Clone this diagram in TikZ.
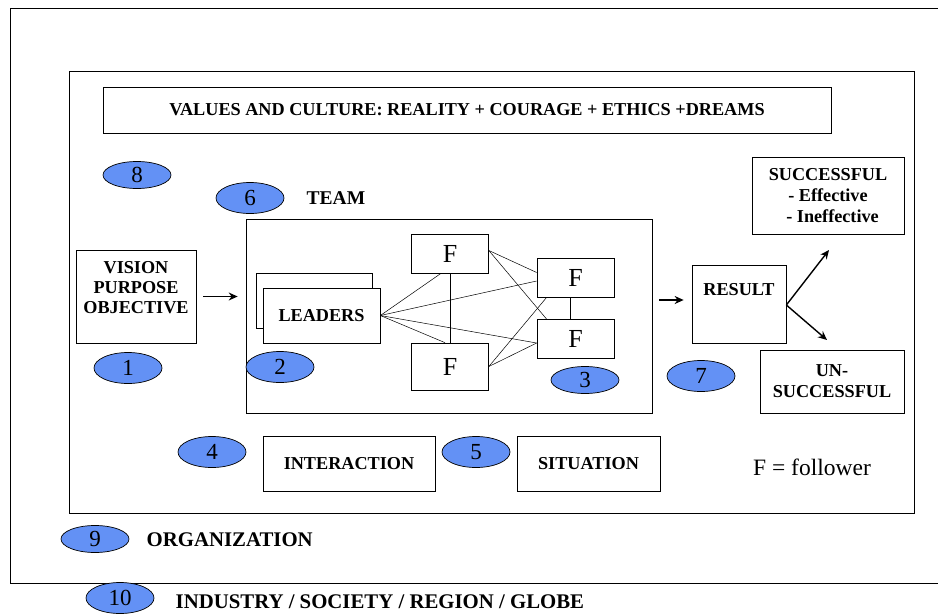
\documentclass[tikz,border=0pt]{standalone}
\usepackage{fontspec}
\setmainfont{Liberation Serif}
\usetikzlibrary{arrows.meta,shapes.geometric}
\definecolor{tagblue}{RGB}{99,145,245}

\begin{document}
\begin{tikzpicture}[x=1pt,y=-1pt,line width=0.7pt,
  box/.style={draw,inner sep=0pt,align=center,font=\bfseries\fontsize{18.2}{21}\selectfont},
  txt/.style={inner sep=0pt,align=center,font=\bfseries\fontsize{18.2}{20}\selectfont},
  fbox/.style={draw,minimum width=77,minimum height=39,inner sep=0pt,font=\fontsize{26}{26}\selectfont},
  tag/.style={ellipse,draw,fill=tagblue,minimum width=68,minimum height=27,inner sep=0pt,font=\fontsize{23}{23}\selectfont},
  lbl/.style={anchor=west,font=\bfseries\fontsize{20.8}{21}\selectfont},
  link/.style={line width=0.5pt},
  flow/.style={-{Stealth[length=9pt,width=8pt]},line width=1.4pt}]
  \useasboundingbox (0,0) rectangle (938,614);
  \draw (938,8) -- (10,8) -- (10,583) -- (938,583);
  \node[draw,minimum width=845,minimum height=442,inner sep=0pt] (org) at (491.5,292) {};
  \node[box,minimum width=728,minimum height=46] (values) at (467,110)
    {VALUES AND CULTURE: REALITY + COURAGE + ETHICS +DREAMS};

  \node[tag] (t8) at (137,175) {8};
  \node[tag,minimum height=31] (t6) at (250,198) {6};
  \node[lbl,font=\bfseries\fontsize{19.5}{20}\selectfont] (teamlbl) at (303,198) {TEAM};
  \node[draw,minimum width=406,minimum height=194,inner sep=0pt] (team) at (449,316) {};

  \node[draw,minimum width=120,minimum height=93,inner sep=0pt] (vision) at (136,296.5) {};
  \node[txt] (visiontxt) at ([yshift=9]vision.center) {VISION\\PURPOSE\\OBJECTIVE};
  \node[tag,minimum height=31] (t1) at (128,368) {1};

  \node[box,minimum width=116,minimum height=55] (leadback) at (314,300.5) {};
  \node[box,fill=white,minimum width=117,minimum height=55] (lead) at (321.5,315.5) {LEADERS};
  \node[tag,minimum height=31] (t2) at (280,367) {2};

  \node[fbox] (f1) at (450,253.5) {F};
  \node[fbox,minimum height=47] (f2) at (450,366.5) {F};
  \node[fbox] (f3) at (575.5,277.5) {F};
  \node[fbox] (f4) at (575.5,339) {F};
  \node[tag] (t3) at (585,380) {3};

  \draw[link] (lead.east) -- ([xshift=-9]f1.south);
  \draw[link] (lead.east) -- ([yshift=-3.5]f3.west);
  \draw[link] (lead.east) -- ([yshift=-4]f4.west);
  \draw[link] (lead.east) -- ([xshift=-5]f2.north);
  \draw[link] (f1.south) -- (f2.north);
  \draw[link] ([yshift=3]f1.east) -- ([yshift=5]f3.west);
  \draw[link] ([yshift=3]f1.east) -- ([xshift=10]f4.north west);
  \draw[link] (f2.east) -- ([xshift=10]f3.south west);
  \draw[link] (f2.east) -- ([yshift=-4]f4.west);
  \draw[link] ([xshift=-5]f3.south) -- ([xshift=-5]f4.north);

  \node[draw,minimum width=94,minimum height=78,inner sep=0pt] (result) at (739,304) {};
  \node[txt] (resulttxt) at ([yshift=14]result.center) {RESULT};
  \node[tag,minimum height=31] (t7) at (701,376) {7};
  \node[box,minimum width=152,minimum height=77] (succ) at (828,195.5)
    {SUCCESSFUL\\- Effective\\\ \ - Ineffective};
  \node[box,minimum width=144,minimum height=63] (unsucc) at (832,381.5) {UN-\\SUCCESSFUL};
  \coordinate (upend) at (829,250);
  \coordinate (downend) at (827,340);

  \draw[flow,shorten <=7pt,shorten >=8pt] (vision.east) -- (vision.east -| team.west);
  \draw[flow,shorten <=7pt,shorten >=8pt] ([yshift=4]result.west -| team.east) -- ([yshift=4]result.west);
  \draw[flow] ([yshift=-1]result.east) -- (upend);
  \draw[flow] ([yshift=-1]result.east) -- (downend);

  \node[tag,minimum height=31] (t4) at (212,452) {4};
  \node[box,minimum width=172,minimum height=55] (inter) at (349,463.5) {INTERACTION};
  \node[tag,minimum height=31] (t5) at (476,452) {5};
  \node[box,minimum width=143,minimum height=55] (situ) at (588.5,463.5) {SITUATION};
  \node[font=\fontsize{23.5}{24}\selectfont] (legend) at (812,467) {F = follower};

  \node[tag] (t9) at (95,539) {9};
  \node[lbl] (orglbl) at (143,540) {ORGANIZATION};
  \node[tag,minimum height=31] (t10) at (120,598) {10};
  \node[lbl] (indlbl) at (172,602) {INDUSTRY / SOCIETY / REGION / GLOBE};
\end{tikzpicture}
\end{document}
